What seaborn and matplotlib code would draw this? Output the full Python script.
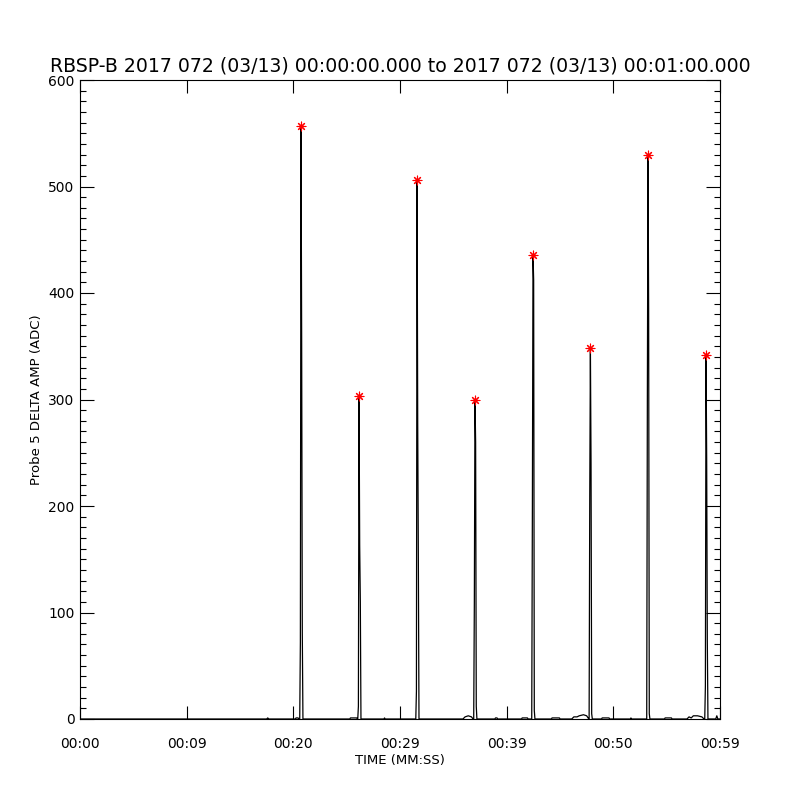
import pandas as pd
import seaborn as sns
import matplotlib.pyplot as plt
from matplotlib.ticker import MultipleLocator, FixedLocator

# Spike peaks (seconds into the minute, ADC)
peak_time = [20.72, 26.16, 31.60, 37.03, 42.47, 47.85, 53.25, 58.69]
peak_amp = [557, 303, 506, 300, 436, 348, 530, 342]
# samples either side of each peak
rise_amp = [72, 12, 26, 110, 195, 210, 300, 31]
fall_amp = [358, 163, 279, 260, 412, 240, 385, 245]
tail_amp = [81, 110, 149, 12, 8, 5, 5, 74]
sample_dt = 0.06

# small wiggles on the baseline
bump_time = [0.0,
             17.5, 17.6, 17.7,
             20.2, 20.25, 20.45, 20.5,
             25.3, 25.35, 25.95, 26.0,
             28.5, 28.55, 28.6,
             35.9, 36.1, 36.4, 36.7, 36.85,
             38.9, 38.95, 39.1, 39.15,
             41.4, 41.45, 41.95, 42.0,
             44.2, 44.25, 44.95, 45.0,
             46.1, 46.3, 46.6, 46.8, 47.2, 47.5, 47.7,
             48.9, 48.95, 49.6, 49.65,
             51.6, 51.65, 51.7,
             54.8, 54.85, 55.45, 55.5,
             56.9, 57.1, 57.3, 57.5, 57.9, 58.3, 58.5,
             59.6, 59.7, 59.8, 60.0]
bump_amp = [0,
            0, 1, 0,
            0, 1, 1, 0,
            0, 1, 1, 0,
            0, 1, 0,
            0, 2, 3, 2, 0,
            0, 1, 1, 0,
            0, 1, 1, 0,
            0, 1, 1, 0,
            0, 2, 2, 3, 4, 3, 0,
            0, 1, 1, 0,
            0, 1, 0,
            0, 1, 1, 0,
            0, 2, 1, 3, 3, 2, 0,
            0, 3, 0, 0]

tick_sec = [0, 10, 20, 30, 40, 50, 60]
tick_text = ['00:00', '00:09', '00:20', '00:29', '00:39', '00:50', '00:59']
title = ("RBSP-B 2017 072 (03/13) 00:00:00.000 to "
         "2017 072 (03/13) 00:01:00.000")

# Build the time series
rows = list(zip(bump_time, bump_amp))
for c, r, p, f, t in zip(peak_time, rise_amp, peak_amp, fall_amp, tail_amp):
    rows += [(c - 2 * sample_dt, 0), (c - sample_dt, r), (c, p),
             (c + sample_dt, f), (c + 2 * sample_dt, t), (c + 3 * sample_dt, 0)]
series = pd.DataFrame(rows, columns=['t', 'adc']).sort_values('t')
peaks = pd.DataFrame({'t': peak_time, 'adc': peak_amp})

sns.set_style('white')
plt.rcParams['font.family'] = ['DejaVu Sans']
plt.rcParams.update({'text.color': 'black', 'axes.labelcolor': 'black',
                     'xtick.color': 'black', 'ytick.color': 'black'})

fig = plt.figure(figsize=(8, 8), dpi=100)
ax = fig.add_axes([0.1, 0.10125, 0.8, 0.79875])

sns.lineplot(data=series, x='t', y='adc', estimator=None, sort=False,
             color='black', linewidth=0.9, ax=ax)
sns.scatterplot(data=peaks, x='t', y='adc', marker=(8, 2, 0), s=40,
                color='red', edgecolor='red', linewidth=0.8, zorder=3,
                clip_on=False, ax=ax)

ax.set_xlim(0, 60)
ax.set_ylim(0, 600)
ax.xaxis.set_major_locator(FixedLocator(tick_sec))
ax.set_xticklabels(tick_text)
ax.yaxis.set_major_locator(MultipleLocator(100))
ax.yaxis.set_minor_locator(MultipleLocator(10))

ax.tick_params(axis='x', which='major', direction='in', length=9.6,
               width=0.8, top=True, bottom=True, pad=13, labelsize=10)
ax.tick_params(axis='y', which='major', direction='in', length=10,
               width=0.8, left=True, right=True, pad=4, labelsize=10)
ax.tick_params(axis='y', which='minor', direction='in', length=4.3,
               width=0.8, left=True, right=True)
for s in ax.spines.values():
    s.set_color('black')
    s.set_linewidth(0.8)

ax.set_xlabel('TIME (MM:SS)', fontsize=9.5, labelpad=2)
ax.set_ylabel('Probe 5 DELTA AMP (ADC)', fontsize=9.5, labelpad=4)
ax.set_title(title, fontsize=13.6, pad=6)

fig.savefig('out.png', dpi=100, facecolor='white')
